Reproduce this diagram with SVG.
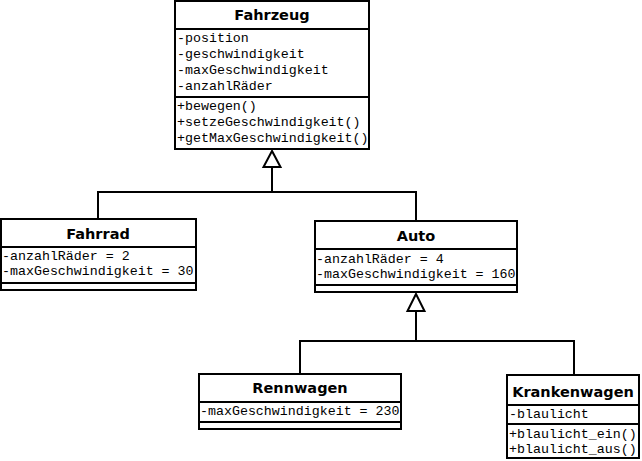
<svg xmlns="http://www.w3.org/2000/svg" width="642" height="461" viewBox="0 0 642 461">
<style>
.box{fill:#fff;stroke:#000;stroke-width:2}
.div{stroke:#000;stroke-width:2}
.title{font-family:"DejaVu Sans",Verdana,sans-serif;font-weight:bold;font-size:14.5px;text-anchor:middle;fill:#000}
.m{font-family:"Liberation Mono","Courier New",monospace;font-size:13.3px;fill:#000}
.con{fill:none;stroke:#000;stroke-width:2}
.tri{fill:#fff;stroke:#000;stroke-width:2;stroke-linejoin:miter}
</style>
<rect width="642" height="461" fill="#fff"/>
<g id="connectors">
<path class="con" d="M272,167 V192 M98,219 V192 H416 V221"/>
<polygon class="tri" points="272,151 263.5,167 280.5,167"/>
<path class="con" d="M416,311 V341 M300,374 V341 H574 V375"/>
<polygon class="tri" points="416,294 407.5,311 424.5,311"/>
</g>
<g id="Fahrzeug">
<rect class="box" x="175" y="1" width="194" height="148"/>
<line class="div" x1="175" y1="29" x2="369" y2="29"/>
<line class="div" x1="175" y1="97" x2="369" y2="97"/>
<text class="title" x="272" y="20">Fahrzeug</text>
<text class="m" x="177" y="42">-position</text>
<text class="m" x="177" y="58">-geschwindigkeit</text>
<text class="m" x="177" y="74">-maxGeschwindigkeit</text>
<text class="m" x="177" y="90">-anzahlRäder</text>
<text class="m" x="177" y="110">+bewegen()</text>
<text class="m" x="177" y="126">+setzeGeschwindigkeit()</text>
<text class="m" x="177" y="142">+getMaxGeschwindigkeit()</text>
</g>
<g id="Fahrrad">
<rect class="box" x="1" y="219" width="195" height="71"/>
<line class="div" x1="1" y1="247" x2="196" y2="247"/>
<line class="div" x1="1" y1="283" x2="196" y2="283"/>
<text class="title" x="98" y="239">Fahrrad</text>
<text class="m" x="2" y="260">-anzahlRäder = 2</text>
<text class="m" x="2" y="275">-maxGeschwindigkeit = 30</text>
</g>
<g id="Auto">
<rect class="box" x="315" y="221" width="202" height="71"/>
<line class="div" x1="315" y1="249" x2="517" y2="249"/>
<line class="div" x1="315" y1="285" x2="517" y2="285"/>
<text class="title" x="416" y="241">Auto</text>
<text class="m" x="316" y="263">-anzahlRäder = 4</text>
<text class="m" x="316" y="278">-maxGeschwindigkeit = 160</text>
</g>
<g id="Rennwagen">
<rect class="box" x="199" y="374" width="202" height="55"/>
<line class="div" x1="199" y1="402" x2="401" y2="402"/>
<line class="div" x1="199" y1="422" x2="401" y2="422"/>
<text class="title" x="300" y="393">Rennwagen</text>
<text class="m" x="200" y="415">-maxGeschwindigkeit = 230</text>
</g>
<g id="Krankenwagen">
<rect class="box" x="507" y="375" width="132" height="83"/>
<line class="div" x1="507" y1="405" x2="639" y2="405"/>
<line class="div" x1="507" y1="424" x2="639" y2="424"/>
<text class="title" x="573" y="397">Krankenwagen</text>
<text class="m" x="509" y="418">-blaulicht</text>
<text class="m" x="509" y="438">+blaulicht_ein()</text>
<text class="m" x="509" y="453">+blaulicht_aus()</text>
</g>
</svg>
